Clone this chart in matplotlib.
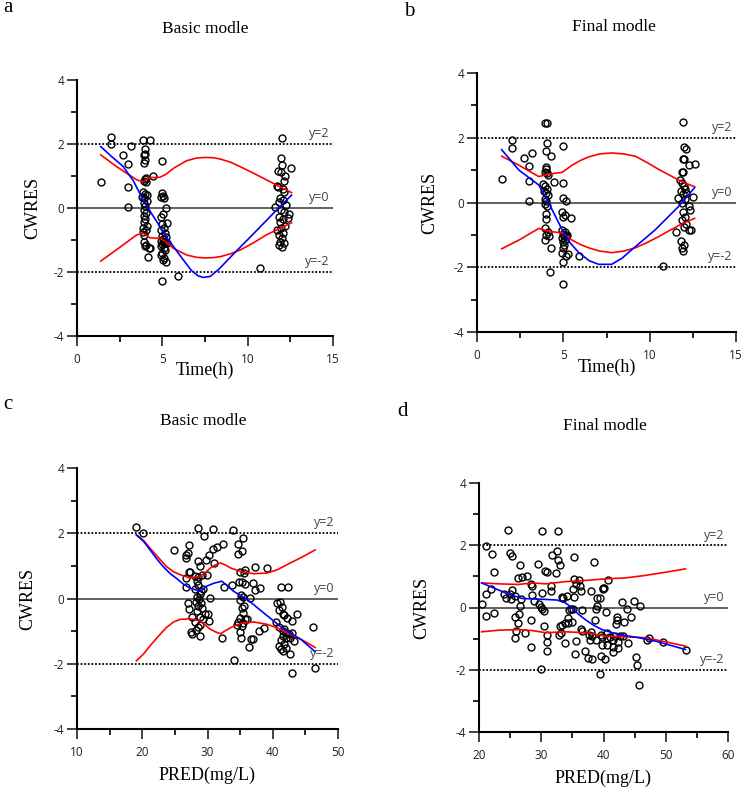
import numpy as np
import matplotlib
matplotlib.use("Agg")
import matplotlib.pyplot as plt
from matplotlib.ticker import MultipleLocator

plt.rcParams['axes.unicode_minus'] = False

# ---- panel a: basic model, CWRES vs time ----
a_pts = [(1.38, 0.80), (2.02, 2.21), (1.98, 2.0), (3.16, 1.95), (2.72, 1.65), (2.98, 1.36),
         (2.98, 0.67), (3.0, 0.02), (4.43, 1.0), (5.94, -2.13), (10.75, -1.88),
         # 4 h
         (3.88, 2.13), (4.25, 2.12), (4.0, 1.85), (3.98, 1.70), (3.95, 1.65), (4.0, 1.50),
         (3.92, 1.40), (4.02, 0.95), (3.98, 0.90), (3.95, 0.85), (4.05, 0.80), (3.85, 0.50),
         (4.0, 0.45), (4.1, 0.42), (3.8, 0.35), (3.95, 0.30), (4.12, 0.22), (3.9, 0.15),
         (4.0, 0.05), (3.95, -0.05), (4.05, -0.15), (3.9, -0.25), (4.0, -0.35), (3.95, -0.45),
         (4.1, -0.55), (3.88, -0.62), (4.02, -0.70), (3.85, -0.75), (3.95, -0.85), (3.9, -1.05),
         (4.05, -1.15), (4.2, -1.25), (4.28, -1.25), (4.15, -1.52), (3.98, -1.20),
         # 5 h
         (5.0, 1.48), (5.0, 0.48), (5.05, 0.38), (4.95, 0.35), (5.1, 0.32), (5.2, 0.0),
         (5.05, -0.18), (4.95, -0.28), (5.3, -0.48), (5.0, -0.50), (5.1, -0.62), (4.9, -0.70),
         (5.15, -0.78), (5.0, -0.88), (5.2, -0.92), (5.05, -0.98), (4.95, -1.02), (5.1, -1.05),
         (5.15, -1.1), (5.0, -1.12), (5.25, -1.08), (4.92, -1.18), (5.08, -1.25), (5.15, -1.32),
         (5.0, -1.40), (4.95, -1.48), (5.1, -1.55), (5.05, -1.62), (5.2, -1.70), (5.0, -2.28),
         # 12 h
         (12.0, 2.18), (11.95, 1.57), (12.0, 1.35), (12.55, 1.25), (11.75, 1.15), (11.95, 1.12),
         (12.2, 1.0), (12.1, 0.85), (11.7, 0.70), (11.8, 0.65), (12.05, 0.60), (12.15, 0.50),
         (11.9, 0.30), (12.05, 0.25), (11.85, 0.20), (12.25, 0.10), (11.6, 0.02), (11.95, -0.05),
         (12.1, -0.12), (12.4, -0.20), (11.85, -0.28), (12.05, -0.35), (12.35, -0.32), (11.9, -0.45),
         (12.2, -0.55), (11.95, -0.62), (11.7, -0.70), (12.05, -0.78), (11.85, -0.85), (12.0, -0.95),
         (11.9, -1.05), (12.15, -1.08), (11.85, -1.15), (12.0, -1.22)]
a_blue_x = [1.39, 2.0, 2.7, 3.3, 3.88, 4.4, 4.86, 5.3, 5.65, 6.2, 6.7, 7.1, 7.4, 7.8, 8.3,
            9.2, 10.35, 11.5, 12.57]
a_blue_y = [1.92, 1.62, 1.3, 0.85, 0.25, -0.2, -0.58, -0.95, -1.2, -1.6, -1.95, -2.12, -2.17,
            -2.14, -1.92, -1.42, -0.8, -0.17, 0.4]
a_red_x = [1.39, 2.3, 3.5, 3.88, 4.27, 4.86, 5.2, 5.65, 6.43, 7.0, 7.5, 8.0, 8.4, 9.0, 9.57,
           10.3, 11.1, 12.57]
a_red_hi = [1.66, 1.3, 0.88, 0.82, 0.95, 0.96, 1.05, 1.24, 1.48, 1.56, 1.58, 1.57, 1.53, 1.43,
            1.29, 1.1, 0.88, 0.48]
a_red_lo = [-1.66, -1.31, -0.84, -0.79, -0.93, -0.95, -1.05, -1.26, -1.47, -1.54, -1.56, -1.55,
            -1.52, -1.43, -1.31, -1.1, -0.84, -0.46]

# ---- panel b: final model, CWRES vs time ----
b_pts = [(1.43, 0.74), (2.0, 1.94), (2.0, 1.69), (2.74, 1.38), (3.18, 1.53), (3.0, 1.13),
         (3.0, 0.66), (3.0, 0.05), (4.45, 0.64), (5.93, -1.65), (10.75, -1.96),
         # 4 h
         (3.95, 2.45), (4.05, 2.45), (4.05, 1.83), (4.02, 1.60), (4.3, 1.45), (3.98, 1.10),
         (4.0, 1.02), (3.92, 0.95), (4.05, 0.92), (4.1, 0.85), (3.85, 0.58), (3.95, 0.50),
         (4.05, 0.42), (3.88, 0.35), (4.0, 0.30), (4.1, 0.22), (3.92, 0.12), (4.02, 0.05),
         (3.95, -0.05), (4.08, -0.12), (4.0, -0.35), (4.02, -0.52), (3.95, -0.80), (4.1, -0.90),
         (4.0, -1.0), (3.95, -1.15), (4.15, -1.05), (4.3, -1.40), (4.22, -2.15),
         # 5 h
         (5.0, 1.75), (5.0, 0.60), (5.0, 0.15), (5.15, 0.05), (4.9, -0.30), (5.1, -0.38),
         (5.0, -0.45), (5.45, -0.48), (4.95, -0.85), (5.1, -0.90), (5.0, -0.98), (5.15, -1.02),
         (5.05, -1.05), (5.2, -1.0), (4.95, -1.10), (5.1, -1.15), (5.0, -1.22), (5.05, -1.30),
         (5.0, -1.40), (4.95, -1.55), (5.25, -1.58), (5.15, -1.65), (5.0, -1.85), (5.0, -2.52),
         # 12 h
         (11.95, 2.50), (11.98, 1.70), (12.1, 1.65), (11.95, 1.35), (12.0, 1.35), (12.6, 1.18),
         (12.3, 1.15), (11.85, 0.95), (11.95, 0.95), (11.75, 0.68), (11.9, 0.60), (12.0, 0.50),
         (12.05, 0.42), (11.8, 0.35), (12.1, 0.30), (11.95, 0.25), (11.65, 0.15), (12.05, 0.10),
         (11.9, 0.0), (12.5, 0.18), (12.25, -0.12), (12.35, -0.22), (11.95, -0.30), (12.05, -0.45),
         (11.9, -0.55), (12.1, -0.65), (12.0, -0.75), (12.25, -0.85), (12.4, -0.85), (11.5, -0.90),
         (11.8, -1.20), (12.0, -1.30), (11.85, -1.42), (11.95, -1.50)]
b_blue_x = [1.43, 2.43, 3.58, 4.16, 4.93, 5.4, 5.9, 6.5, 7.05, 7.8, 8.4, 8.98, 10.33, 11.68, 12.6]
b_blue_y = [1.63, 1.0, 0.54, -0.02, -0.84, -1.25, -1.55, -1.8, -1.91, -1.91, -1.72, -1.45,
            -0.84, -0.12, 0.46]
b_red_x = [1.43, 2.43, 3.58, 4.16, 4.93, 5.5, 6.0, 6.47, 7.1, 7.8, 8.5, 9.17, 9.8, 10.5, 11.2,
           11.87, 12.6]
b_red_hi = [1.43, 1.15, 0.8, 0.88, 0.93, 1.15, 1.3, 1.41, 1.5, 1.53, 1.5, 1.43, 1.25, 1.03, 0.83,
            0.64, 0.49]
b_red_lo = [-1.43, -1.16, -0.8, -0.89, -0.94, -1.16, -1.3, -1.4, -1.5, -1.55, -1.5, -1.4, -1.25,
            -1.06, -0.85, -0.66, -0.49]

# ---- panel c: basic model, CWRES vs PRED ----
c_pts = [(19.1, 2.18), (20.15, 2.0), (24.8, 1.48), (27.2, 1.64), (26.75, 1.34), (27.0, 1.38),
         (26.7, 1.24), (27.35, 0.82), (27.1, 0.82), (26.75, 0.62), (26.7, 0.36), (27.05, -0.13),
         (27.15, -0.33), (27.6, -0.58), (27.7, -1.08),
         (28.5, 2.15), (29.5, 1.93), (30.9, 2.12), (32.3, 1.67), (31.5, 1.58), (30.8, 1.53),
         (30.2, 1.32), (29.8, 1.19), (28.6, 1.14), (28.9, 0.99), (31.0, 1.09), (28.15, 0.70),
         (28.55, 0.65), (29.1, 0.73), (29.9, 0.72), (28.35, 0.55), (28.5, 0.42), (28.1, 0.30),
         (29.3, 0.28), (29.0, 0.22), (28.9, 0.14), (28.4, 0.05), (28.7, -0.02), (30.4, 0.02),
         (28.2, -0.10), (28.95, -0.15), (28.6, -0.23), (29.2, -0.30), (28.4, -0.38), (29.6, -0.48),
         (30.15, -0.48), (28.8, -0.58), (29.3, -0.62), (30.2, -0.68), (28.1, -0.72), (28.9, -0.80),
         (28.3, -0.98), (27.5, -1.02), (28.85, -1.15), (28.6, -0.88),
         (32.2, -1.2), (32.5, 0.35), (33.7, 0.41), (33.9, 2.1), (34.1, -1.87),
         (35.45, 1.84), (34.75, 1.68), (35.35, 1.45), (34.65, 1.35), (35.7, 0.88), (35.05, 0.82),
         (35.55, 0.78), (34.9, 0.50), (35.3, 0.50), (35.75, 0.45), (35.2, 0.12), (35.5, 0.05),
         (35.05, -0.05), (35.6, -0.22), (35.3, -0.30), (35.45, -0.45), (35.05, -0.60), (35.75, -0.62),
         (34.7, -0.72), (34.5, -0.80), (35.35, -0.85), (34.95, -1.02), (35.2, -1.20), (35.5, -0.75),
         (37.3, 0.98), (39.1, 0.93), (36.9, 0.48), (37.3, 0.25), (38.1, 0.32), (36.5, 0.02),
         (36.7, -1.23), (36.95, -1.23), (36.3, -1.5), (37.9, -1.0), (38.7, -0.9), (36.05, -0.62),
         (41.2, 0.35), (42.3, 0.35), (40.6, -0.15), (41.1, -0.12), (41.35, -0.25), (40.9, -0.35),
         (41.5, -0.48), (41.7, -0.50), (42.2, -0.60), (40.5, -0.72), (40.9, -0.88), (41.8, -0.95),
         (41.5, -1.0), (42.1, -1.05), (42.5, -1.1), (41.6, -1.15), (42.0, -1.22), (41.3, -1.28),
         (42.7, -1.2), (41.8, -1.38), (40.9, -1.45), (41.3, -1.55), (41.6, -1.62), (42.1, -1.52),
         (42.6, -1.70), (43.0, -2.28), (43.7, -0.49), (42.9, -0.69), (43.3, -1.3), (43.0, -1.05),
         (46.2, -0.87), (46.5, -2.12)]
c_blue_x = [19.1, 20.2, 21.2, 22.2, 23.2, 24.3, 25.3, 26.3, 27.3, 28.9, 29.9, 31.0, 32.2, 33.1,
            34.0, 36.1, 38.6, 41.7, 44.3, 46.5]
c_blue_y = [1.95, 1.75, 1.49, 1.22, 0.98, 0.76, 0.61, 0.44, 0.32, 0.22, 0.38, 0.47, 0.53, 0.38,
            0.22, -0.03, -0.44, -0.94, -1.25, -1.63]
c_red_x = [19.1, 20.2, 21.2, 22.5, 23.7, 24.8, 25.8, 27.3, 28.9, 29.7, 30.4, 31.2, 32.0, 32.8,
           33.6, 35.1, 37.1, 39.1, 40.7, 42.2, 44.4, 46.5]
c_red_hi = [1.95, 1.78, 1.54, 1.25, 0.98, 0.82, 0.73, 0.63, 0.68, 0.8, 0.93, 1.03, 1.09, 1.02,
            0.93, 0.83, 0.76, 0.78, 0.88, 1.04, 1.26, 1.49]
c_red_lo = [-1.91, -1.7, -1.45, -1.15, -0.89, -0.72, -0.64, -0.62, -0.69, -0.82, -0.94, -1.02,
            -1.08, -0.98, -0.89, -0.76, -0.72, -0.79, -0.9, -1.05, -1.26, -1.5]

# ---- panel d: final model, CWRES vs PRED ----
d_pts = [(24.66, 2.50), (30.17, 2.45), (32.74, 2.45), (21.18, 1.97), (22.14, 1.72), (24.98, 1.75),
         (25.35, 1.65), (26.53, 1.38), (22.41, 1.14), (29.48, 1.40), (31.67, 1.70), (32.48, 1.83),
         (32.74, 1.54), (33.01, 1.38), (30.55, 1.17), (30.98, 1.13), (35.26, 1.61), (38.47, 1.47),
         (32.32, 1.11), (26.26, 0.95), (27.76, 1.01), (28.3, 0.77), (28.57, 0.68), (30.17, 0.47),
         (31.51, 0.68), (31.51, 0.52), (33.49, 0.31), (33.28, 0.34), (35.26, 0.90), (36.06, 0.88),
         (35.53, 0.76), (36.17, 0.68), (35.1, 0.60), (36.33, 0.52), (37.94, 0.52), (39.0, 0.31),
         (39.97, 0.63), (21.07, 0.42), (21.87, 0.61), (24.02, 0.42), (24.28, 0.29), (25.25, 0.56),
         (24.98, 0.42), (25.78, 0.36), (25.09, 0.26), (26.69, 0.26), (28.46, 0.39), (28.84, 0.20),
         (29.64, 0.12), (29.91, 0.01), (30.17, -0.06), (30.44, -0.10), (20.43, 0.12), (21.07, -0.28),
         (22.41, -0.19), (25.78, -0.30), (26.43, -0.22), (26.53, 0.06), (26.32, -0.51), (25.89, -0.76),
         (25.78, -0.98), (27.39, -0.83), (28.3, -0.39), (30.44, -0.58), (30.98, -0.87), (30.98, -1.11),
         (30.98, -1.40), (28.3, -1.27), (29.91, -1.96), (32.96, -0.60), (33.12, -0.81), (32.85, -0.87),
         (33.39, -0.55), (33.81, -0.49), (34.35, -0.33), (34.35, -0.49), (34.89, -0.47), (35.15, -0.04),
         (35.26, 0.33), (33.81, -1.13), (35.53, -1.08), (35.42, -1.49), (36.6, -0.76), (37.03, -1.40),
         (37.67, -0.87), (37.94, -0.78), (38.21, -0.92), (37.83, -1.03), (38.74, -1.03), (36.6, -0.09),
         (38.64, -0.39), (39.01, 0.06), (38.74, -0.06), (37.56, -1.61), (39.54, -1.56), (38.21, -1.67),
         (39.44, -2.15), (39.54, -0.87), (26.9, 0.97), (34.1, 0.36), (34.4, -0.09), (34.7, -0.04),
         (36.4, -0.70),
         (40.78, 0.87), (40.08, 0.63), (39.87, 0.58), (39.44, 0.29), (42.92, 0.17), (44.9, 0.20),
         (45.87, 0.06), (43.72, -0.06), (40.4, -0.13), (42.22, -0.31), (42.22, -0.41), (44.42, -0.30),
         (43.3, -0.47), (42.01, -0.52), (40.51, -0.81), (39.71, -0.95), (40.51, -0.97), (41.05, -0.94),
         (41.47, -1.05), (41.85, -0.92), (42.65, -0.92), (43.08, -0.92), (42.38, -1.11), (43.99, -1.13),
         (40.62, -1.22), (39.71, -1.22), (41.58, -1.26), (42.28, -1.29), (41.47, -1.43), (40.24, -1.65),
         (45.22, -1.58), (45.44, -1.85), (45.7, -2.49), (46.94, -1.03), (47.31, -0.97), (49.51, -1.10),
         (53.26, -1.35)]
d_blue_x = [20.43, 24.23, 26.9, 30.66, 32.53, 33.87, 34.94, 36.0, 37.08, 38.4, 39.76, 42.44,
            45.65, 48.33, 53.15]
d_blue_y = [0.79, 0.47, 0.29, 0.26, 0.24, 0.15, -0.01, -0.22, -0.39, -0.57, -0.71, -0.87,
            -0.97, -1.08, -1.35]
d_red_x = [20.43, 23.16, 26.37, 28.51, 30.66, 33.87, 37.08, 40.29, 43.5, 46.7, 49.9, 53.15]
d_red_hi = [0.79, 0.76, 0.74, 0.79, 0.76, 0.83, 0.87, 0.92, 0.95, 1.03, 1.13, 1.24]
d_red_lo = [-0.78, -0.73, -0.71, -0.74, -0.81, -0.78, -0.81, -0.92, -0.94, -0.97, -1.10, -1.24]

W, H = 744, 789
fig = plt.figure(figsize=(W / 100, H / 100), dpi=100)

serif = ['Liberation Serif', 'DejaVu Serif']
sans = ['Open Sans', 'DejaVu Sans']


def panel(box, pts, blue, red_x, red_hi, red_lo, xlim, xstep, xlabel, title,
          letter, letter_xy, title_xy, ylab_x, xlab_y):
    l, t, r, b = box
    ax = fig.add_axes([l / W, 1 - b / H, (r - l) / W, (b - t) / H])
    pts = np.array(pts)
    ax.plot(pts[:, 0], pts[:, 1], 'o', ms=5, mfc='none', mec='black', mew=1.0, zorder=2)
    ax.plot(red_x, red_hi, color='red', lw=1.2, zorder=3)
    ax.plot(red_x, red_lo, color='red', lw=1.2, zorder=3)
    ax.plot(blue[0], blue[1], color='blue', lw=1.2, zorder=3)
    ax.axhline(0, color='#555555', lw=1.3, zorder=1)
    for yv in (2, -2):
        ax.axhline(yv, color='black', lw=1.3, ls=(0, (1, 1)), zorder=1)
    for yv, s in ((2, 'y=2'), (0, 'y=0'), (-2, 'y=-2')):
        ax.text(0.985, yv + 0.12, s, transform=ax.get_yaxis_transform(), ha='right',
                va='bottom', fontsize=9, color='#444444', family=sans)
    ax.set_xlim(*xlim)
    ax.set_ylim(-4, 4)
    ax.xaxis.set_major_locator(MultipleLocator(xstep))
    ax.xaxis.set_minor_locator(MultipleLocator(xstep / 2))
    ax.yaxis.set_major_locator(MultipleLocator(2))
    ax.yaxis.set_minor_locator(MultipleLocator(1))
    for s in ('top', 'right'):
        ax.spines[s].set_visible(False)
    for s in ('left', 'bottom'):
        ax.spines[s].set_linewidth(1.5)
    ax.tick_params(which='major', direction='out', length=7, width=1.2, labelsize=8.5,
                   colors='#222222')
    ax.tick_params(which='minor', direction='out', length=4, width=1.2)
    ax.tick_params(axis='x', pad=5)
    ax.tick_params(axis='y', pad=2)
    for lab in ax.get_xticklabels() + ax.get_yticklabels():
        lab.set_family(sans)
    ax.patch.set_alpha(0)
    h = b - t
    ax.text(-(l - ylab_x) / (r - l), 0.5, 'CWRES', transform=ax.transAxes, rotation=90,
            ha='center', va='center', fontsize=13, family=serif)
    ax.text(0.5, -(xlab_y - b) / h, xlabel, transform=ax.transAxes,
            ha='center', va='center', fontsize=13, family=serif)
    fig.text(title_xy[0] / W, 1 - title_xy[1] / H, title, ha='center', va='center',
             fontsize=12.5, family=serif)
    fig.text(letter_xy[0] / W, 1 - letter_xy[1] / H, letter, ha='center', va='center',
             fontsize=15, family=serif)
    return ax


panel((77, 80, 333, 336), a_pts, (a_blue_x, a_blue_y), a_red_x, a_red_hi, a_red_lo,
      (0, 15), 5, 'Time(h)', 'Basic modle', 'a', (8, 8), (205, 29), 33, 370)
panel((477, 73, 736, 332), b_pts, (b_blue_x, b_blue_y), b_red_x, b_red_hi, b_red_lo,
      (0, 15), 5, 'Time(h)', 'Final modle', 'b', (409, 11), (614, 27), 430, 367)
panel((77, 468, 338, 729), c_pts, (c_blue_x, c_blue_y), c_red_x, c_red_hi, c_red_lo,
      (10, 50), 10, 'PRED(mg/L)', 'Basic modle', 'c', (8, 405), (203, 421), 28, 775)
panel((479, 483, 728, 732), d_pts, (d_blue_x, d_blue_y), d_red_x, d_red_hi, d_red_lo,
      (20, 60), 10, 'PRED(mg/L)', 'Final modle', 'd', (403, 411), (605, 426), 422, 778)

fig.savefig('out.png', dpi=100)
